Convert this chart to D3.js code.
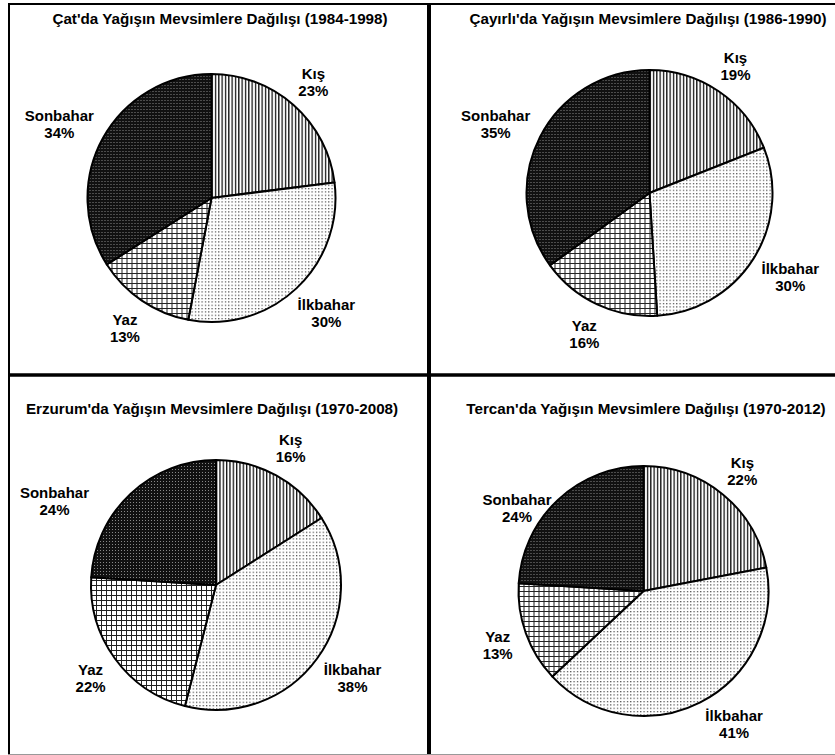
<!DOCTYPE html>
<html><head><meta charset="utf-8">
<script src="https://cdn.jsdelivr.net/npm/d3@7"></script>
<style>
html,body{margin:0;padding:0;background:#fff;}
svg{display:block;}
text{font-family:"Liberation Sans",Arial,sans-serif;font-weight:bold;fill:#000;}
</style></head>
<body>
<svg id="c" width="835" height="755"></svg>
<script>
// ---- data ----
const seasons = ["Kış", "İlkbahar", "Yaz", "Sonbahar"];
const titles = [
  "Çat'da Yağışın Mevsimlere Dağılışı (1984-1998)",
  "Çayırlı'da Yağışın Mevsimlere Dağılışı (1986-1990)",
  "Erzurum'da Yağışın Mevsimlere Dağılışı (1970-2008)",
  "Tercan'da Yağışın Mevsimlere Dağılışı (1970-2012)"
];
const catValues     = [23, 30, 13, 34];
const cayirliValues = [19, 30, 16, 35];
const erzurumValues = [16, 38, 22, 24];
const tercanValues  = [22, 41, 13, 24];
const allValues = [catValues, cayirliValues, erzurumValues, tercanValues];

// ---- layout (not data) ----
const panels = [
  {cx: 211.5, cy: 198, r: 124, tx: 220, ty: 23.5},
  {cx: 649.5, cy: 193, r: 123, tx: 648, ty: 23.5},
  {cx: 216,   cy: 585, r: 125, tx: 212, ty: 414},
  {cx: 643.5, cy: 591, r: 125, tx: 646, ty: 414}
];
// manual label nudges for labels moved by the original chart tool
const nudges = {"2-3": [-42, 29], "3-3": [-7, 30], "3-1": [14, -8]};
const fills = ["url(#pKis)", "url(#pIlk)", "url(#pYaz)", "url(#pSon)"];

const svg = d3.select("#c");
const defs = svg.append("defs");
// vertical lines
const p1 = defs.append("pattern").attr("id","pKis").attr("patternUnits","userSpaceOnUse")
  .attr("width",10/3).attr("height",4);
p1.append("rect").attr("width",10/3).attr("height",4).attr("fill","#fff");
p1.append("rect").attr("width",1.3).attr("height",4).attr("fill","#111");
// light dots
const p2 = defs.append("pattern").attr("id","pIlk").attr("patternUnits","userSpaceOnUse")
  .attr("width",10/3).attr("height",10/3);
p2.append("rect").attr("width",10/3).attr("height",10/3).attr("fill","#fff");
p2.append("rect").attr("width",1.2).attr("height",1.2).attr("fill","#444");
// grid
const p3 = defs.append("pattern").attr("id","pYaz").attr("patternUnits","userSpaceOnUse")
  .attr("width",5).attr("height",5);
p3.append("rect").attr("width",5).attr("height",5).attr("fill","#fff");
p3.append("rect").attr("width",5).attr("height",1).attr("fill","#222");
p3.append("rect").attr("width",1).attr("height",5).attr("fill","#222");
// dark with white dots
const p4 = defs.append("pattern").attr("id","pSon").attr("patternUnits","userSpaceOnUse")
  .attr("width",3).attr("height",3);
p4.append("rect").attr("width",3).attr("height",3).attr("fill","#111");
p4.append("rect").attr("x",1).attr("y",1).attr("width",1).attr("height",1).attr("fill","#888");

// frame
const fr = svg.append("g").attr("stroke","#000");
fr.append("line").attr("x1",9).attr("x2",835).attr("y1",4).attr("y2",4).attr("stroke-width",2);
fr.append("line").attr("x1",9).attr("x2",9).attr("y1",3).attr("y2",755).attr("stroke-width",2);
fr.append("line").attr("x1",429).attr("x2",429).attr("y1",3).attr("y2",755).attr("stroke-width",4);
fr.append("line").attr("x1",8).attr("x2",835).attr("y1",375).attr("y2",375).attr("stroke-width",3.5);
fr.append("line").attr("x1",8).attr("x2",835).attr("y1",754.5).attr("y2",754.5).attr("stroke-width",1).attr("stroke","#999");

const pie = d3.pie().sort(null).value(d => d);

allValues.forEach((vals, i) => {
  const P = panels[i];
  const g = svg.append("g").attr("transform", `translate(${P.cx},${P.cy})`);
  const arc = d3.arc().innerRadius(0).outerRadius(P.r);
  const arcs = pie(vals);
  g.selectAll("path").data(arcs).join("path")
    .attr("d", arc)
    .attr("fill", (d, j) => fills[j])
    .attr("stroke", "#000").attr("stroke-width", 2).attr("stroke-linejoin","round");

  svg.append("text").attr("x", P.tx).attr("y", P.ty).attr("text-anchor","middle")
    .attr("font-size", "15.2px").text(titles[i]);

  arcs.forEach((d, j) => {
    const a = (d.startAngle + d.endAngle) / 2;
    const t = svg.append("text").attr("text-anchor","middle").attr("font-size","15px");
    const l1 = t.append("tspan").text(seasons[j]);
    const l2 = t.append("tspan").text(d3.format(".0%")(vals[j] / 100));
    const w = Math.max(l1.node().getComputedTextLength(), l2.node().getComputedTextLength());
    const h = 34, gap = 15;
    const s = Math.sin(a), c = Math.cos(a);
    let x = P.cx + s * (P.r + gap + w / 2);
    let y = P.cy - c * (P.r + gap + h / 2);
    const n = nudges[i + "-" + j];
    if (n) { x += n[0]; y += n[1]; }
    l1.attr("x", x).attr("y", y - 2);
    l2.attr("x", x).attr("y", y + 15);
  });
});
</script>
</body></html>
